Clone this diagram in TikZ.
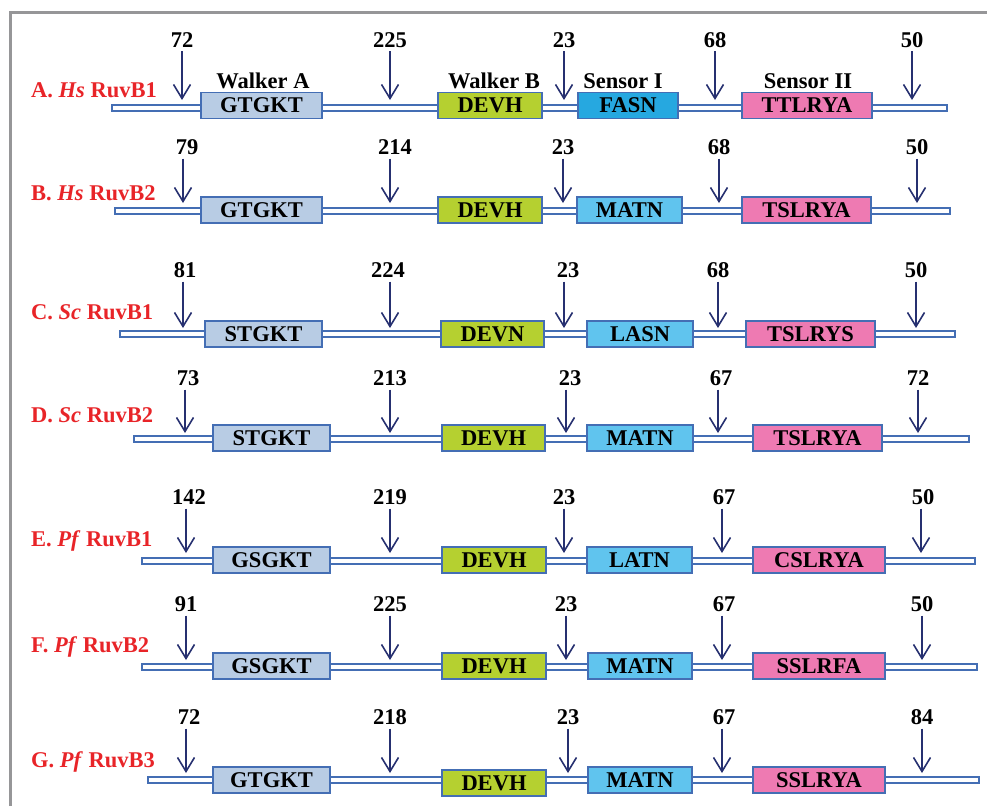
\documentclass[tikz,border=0pt]{standalone}
\usepackage{fontspec}
\setmainfont{Liberation Serif}
\usetikzlibrary{arrows.meta}
\definecolor{frameg}{RGB}{150,150,152}
\definecolor{bblue}{RGB}{68,110,180}
\definecolor{wa}{RGB}{184,204,228}
\definecolor{wb}{RGB}{181,208,48}
\definecolor{sa}{RGB}{38,168,224}
\definecolor{sb}{RGB}{96,196,238}
\definecolor{stwo}{RGB}{238,122,178}
\definecolor{arrc}{RGB}{38,48,112}
\definecolor{lab}{RGB}{232,36,40}
\newcommand\dom[6]{\node[dombox,fill=#2,minimum width={(#4-#3)*1pt}] (#1) at ({(#3+#4)/2},#5) {#6};}
\newcommand\cut[6]{\node[numlab] (n#1) at (#2,#3) {#6}; \coordinate (t#1) at (#4,#5); \draw[arr] (n#1.south -| t#1) -- (t#1);}
\newcommand\bbone[4]{\node[bbstyle,minimum width={(#3-#2)*1pt}] (b#1) at ({(#2+#3)/2},#4) {};}
\tikzset{
  dombox/.style={rectangle,draw=bblue,line width=1.2pt,minimum height=26pt,inner sep=0pt},
  bbstyle/.style={rectangle,draw=bblue,fill=white,line width=1.3pt,minimum height=6pt,inner sep=0pt},
  numlab/.style={anchor=base,inner sep=0pt,outer sep=0pt},
  arr/.style={draw=arrc,line width=1.6pt,shorten <=4pt,-{Straight Barb[length=14pt,width=17pt,line width=1.6pt]}},
  hdr/.style={anchor=base,inner sep=0pt},
  rowlab/.style={anchor=base west,inner sep=0pt,text=lab}
}
\begin{document}
\begin{tikzpicture}[x=1pt,y=-1pt,font=\fontsize{22.5}{27}\selectfont\bfseries]
\useasboundingbox (0,0) rectangle (987,806);
\draw[frameg,line width=3pt] (10,806) -- (10,12) -- (987,12);
% Row A
\bbone{A}{112}{947}{108}
\dom{A1}{wa}{201}{322}{105.5}{GTGKT}
\dom{A2}{wb}{438}{542}{105.5}{DEVH}
\dom{A3}{sa}{578}{678}{105.5}{FASN}
\dom{A4}{stwo}{742}{872}{105.5}{TTLRYA}
\node[hdr] (hA1) at (263,88) {Walker A};
\node[hdr] (hA2) at (494,88) {Walker B};
\node[hdr] (hA3) at (623,88) {Sensor I};
\node[hdr] (hA4) at (808,88) {Sensor II};
\cut{A1}{182}{47}{182}{100}{72}
\cut{A2}{390}{47}{390}{100}{225}
\cut{A3}{564}{47}{564}{100}{23}
\cut{A4}{715}{47}{715}{100}{68}
\cut{A5}{912}{47}{912}{100}{50}
\node[rowlab] (lA) at (31,97) {A. \textit{Hs} RuvB1};
% Row B
\bbone{B}{115}{950}{211}
\dom{B1}{wa}{201}{322}{210}{GTGKT}
\dom{B2}{wb}{438}{542}{210}{DEVH}
\dom{B3}{sb}{577}{682}{210}{MATN}
\dom{B4}{stwo}{742}{871}{210}{TSLRYA}
\cut{B1}{187}{154.5}{183}{203}{79}
\cut{B2}{395}{154.5}{390}{203}{214}
\cut{B3}{563}{154.5}{563}{203}{23}
\cut{B4}{719}{154.5}{719}{203}{68}
\cut{B5}{917}{154.5}{917}{203}{50}
\node[rowlab] (lB) at (31,200) {B. \textit{Hs} RuvB2};
% Row C
\bbone{C}{120}{955}{334}
\dom{C1}{wa}{205}{322}{334}{STGKT}
\dom{C2}{wb}{441}{544}{334}{DEVN}
\dom{C3}{sb}{587}{693}{334}{LASN}
\dom{C4}{stwo}{746}{875}{334}{TSLRYS}
\cut{C1}{185}{277.5}{183}{328}{81}
\cut{C2}{388}{277.5}{390}{328}{224}
\cut{C3}{568}{277.5}{564}{328}{23}
\cut{C4}{718}{277.5}{718}{328}{68}
\cut{C5}{916}{277.5}{916}{328}{50}
\node[rowlab] (lC) at (31,319) {C. \textit{Sc} RuvB1};
% Row D
\bbone{D}{134}{969}{439}
\dom{D1}{wa}{213}{330}{438}{STGKT}
\dom{D2}{wb}{442}{545}{438}{DEVH}
\dom{D3}{sb}{587}{693}{438}{MATN}
\dom{D4}{stwo}{753}{882}{438}{TSLRYA}
\cut{D1}{188}{385.5}{185}{433}{73}
\cut{D2}{390}{385.5}{390}{433}{213}
\cut{D3}{570}{385.5}{566}{433}{23}
\cut{D4}{721}{385.5}{718}{433}{67}
\cut{D5}{918}{385.5}{918}{433}{72}
\node[rowlab] (lD) at (31,422) {D. \textit{Sc} RuvB2};
% Row E
\bbone{E}{142}{975}{561}
\dom{E1}{wa}{213}{330}{560}{GSGKT}
\dom{E2}{wb}{442}{546}{560}{DEVH}
\dom{E3}{sb}{587}{692}{560}{LATN}
\dom{E4}{stwo}{753}{885}{560}{CSLRYA}
\cut{E1}{189}{504.5}{186}{553}{142}
\cut{E2}{390}{504.5}{390}{553}{219}
\cut{E3}{564}{504.5}{564}{553}{23}
\cut{E4}{724}{504.5}{722}{553}{67}
\cut{E5}{923}{504.5}{921}{553}{50}
\node[rowlab] (lE) at (31,546) {E. \textit{Pf} RuvB1};
% Row F
\bbone{F}{142}{977}{667}
\dom{F1}{wa}{213}{330}{666}{GSGKT}
\dom{F2}{wb}{442}{546}{666}{DEVH}
\dom{F3}{sb}{588}{692}{666}{MATN}
\dom{F4}{stwo}{753}{885}{666}{SSLRFA}
\cut{F1}{186}{611.5}{186}{660}{91}
\cut{F2}{390}{611.5}{390}{660}{225}
\cut{F3}{566}{611.5}{566}{660}{23}
\cut{F4}{724}{611.5}{722}{660}{67}
\cut{F5}{922}{611.5}{922}{660}{50}
\node[rowlab] (lF) at (31,652) {F. \textit{Pf} RuvB2};
% Row G
\bbone{G}{148}{979}{780}
\dom{G1}{wa}{213}{330}{780}{GTGKT}
\dom{G2}{wb}{442}{546}{783}{DEVH}
\dom{G3}{sb}{588}{692}{780}{MATN}
\dom{G4}{stwo}{753}{885}{780}{SSLRYA}
\cut{G1}{189}{724.5}{186}{773}{72}
\cut{G2}{390}{724.5}{390}{773}{218}
\cut{G3}{568}{724.5}{568}{773}{23}
\cut{G4}{724}{724.5}{722}{773}{67}
\cut{G5}{922}{724.5}{922}{773}{84}
\node[rowlab] (lG) at (31,767) {G. \textit{Pf} RuvB3};
\end{tikzpicture}
\end{document}
